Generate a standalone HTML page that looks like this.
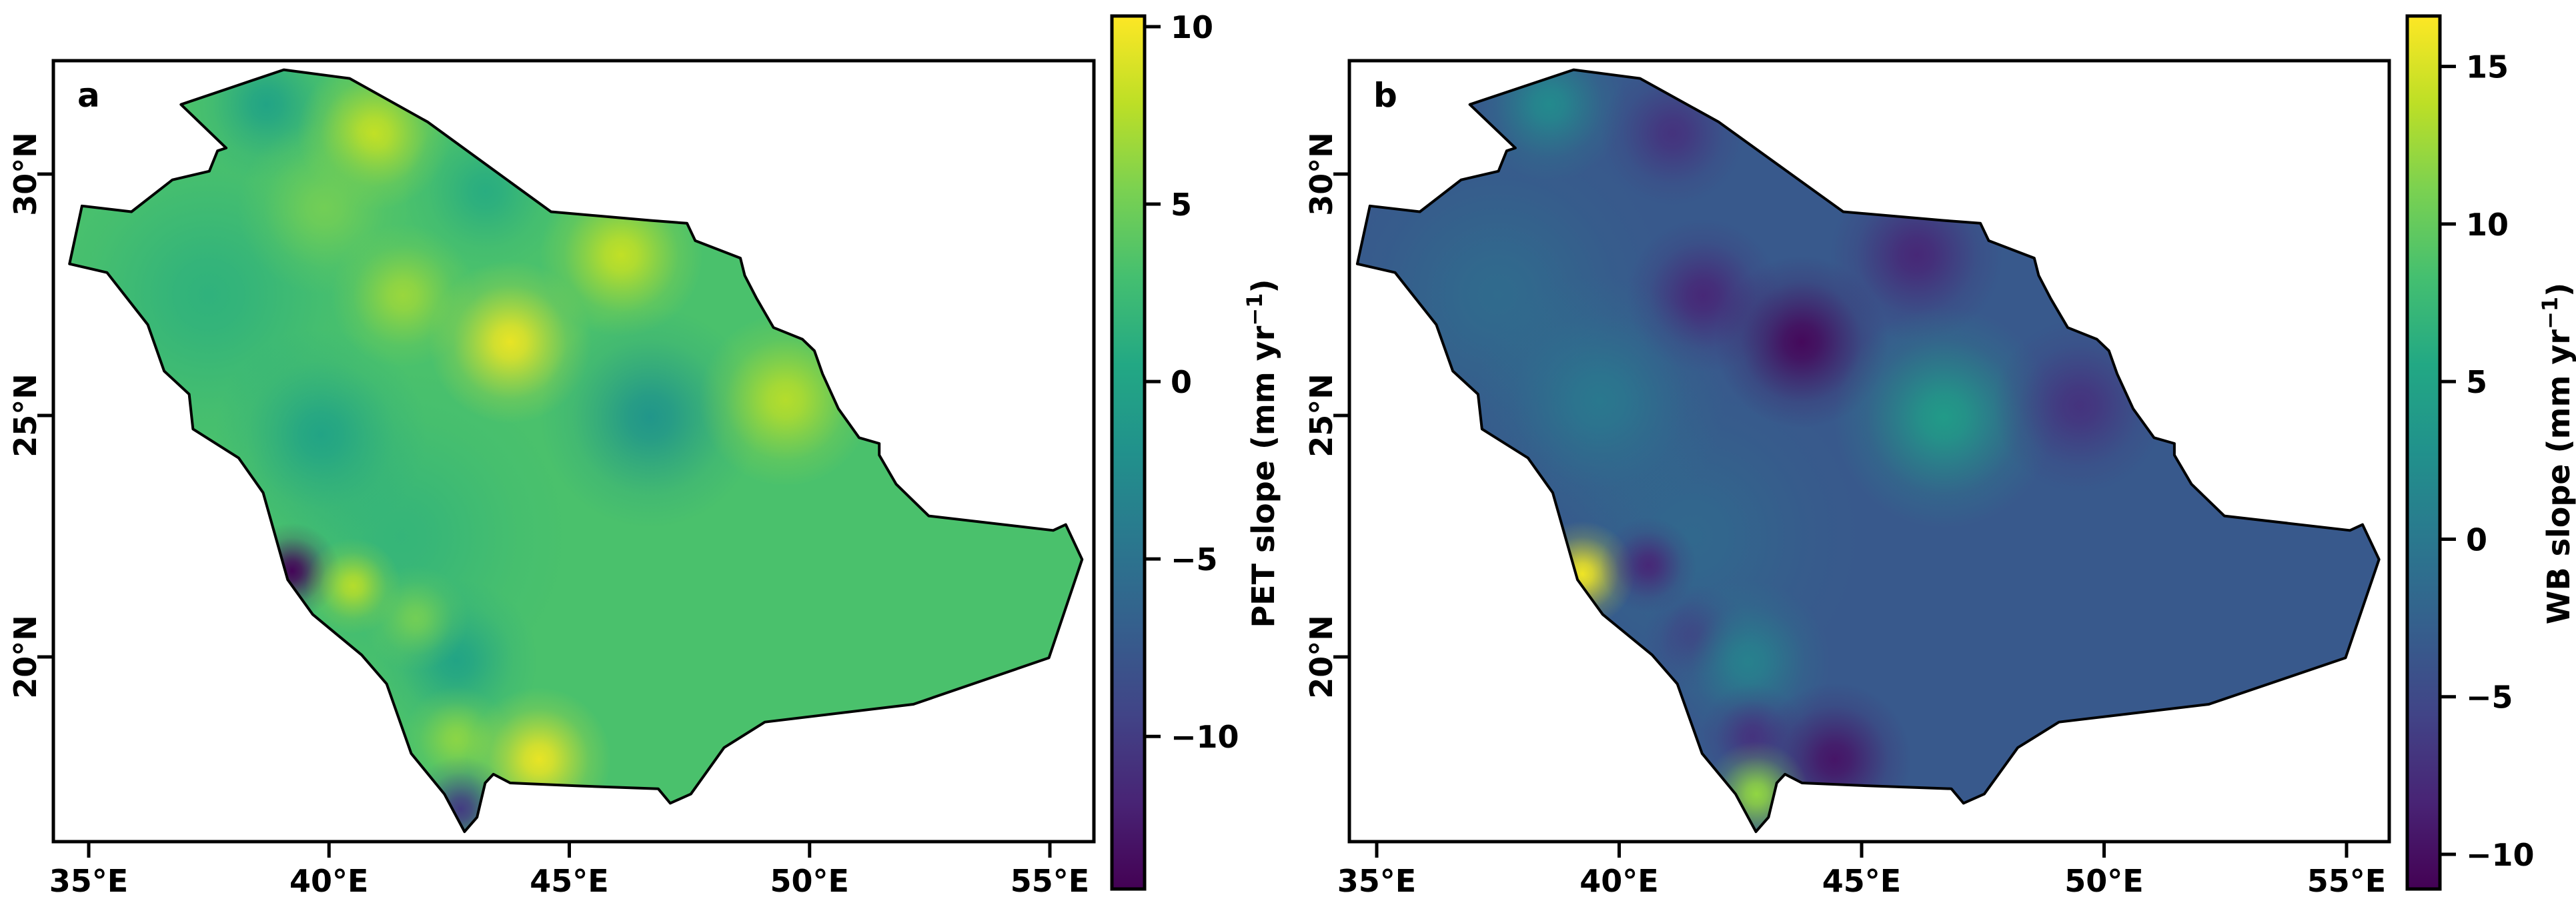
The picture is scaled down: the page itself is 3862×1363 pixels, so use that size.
<!DOCTYPE html>
<html><head><meta charset="utf-8">
<style>
html,body{margin:0;padding:0;background:#fff;}
svg{display:block;}
text{font-family:"DejaVu Sans","Liberation Sans",sans-serif;font-weight:bold;fill:#000;}
</style></head>
<body>
<svg id="fig" width="3862" height="1363" viewBox="0 0 3862 1363" xmlns="http://www.w3.org/2000/svg">
<defs id="defs"></defs>
</svg>
<script>
// ---- data ----
const outlineLon = [36.92,39.06,40.43,42.05,44.62,46.68,47.45,47.62,48.56,48.65,48.9,49.25,49.85,50.1,50.27,50.6,51.03,51.45,51.45,51.8,52.48,55.07,55.33,55.67,54.98,52.16,49.07,48.22,47.53,47.1,46.85,45.14,43.77,43.42,43.25,43.08,42.82,42.4,41.71,41.2,40.68,39.66,39.14,38.97,38.63,38.12,37.17,37.09,36.57,36.23,35.38,34.6,34.86,35.89,36.74,37.51,37.68,37.86];
const outlineLat = [31.44,32.16,31.98,31.08,29.22,29.04,28.98,28.62,28.26,27.9,27.42,26.82,26.58,26.34,25.86,25.14,24.54,24.42,24.18,23.58,22.92,22.62,22.74,22.02,19.98,19.02,18.65,18.12,17.16,16.97,17.27,17.33,17.39,17.57,17.39,16.68,16.38,17.16,18.0,19.44,20.04,20.88,21.6,22.2,23.4,24.12,24.72,25.44,25.92,26.88,27.96,28.14,29.34,29.22,29.88,30.06,30.48,30.54];

const petBase = 3.2;
const petLon = [37.5,41.5,38.7,40.94,41.54,43.77,46.08,46.68,49.5,39.83,39.23,40.5,42.65,42.65,44.37,42.74,43.25,39.9,41.8];
const petLat = [27.5,22.5,31.44,30.84,27.48,26.52,28.32,24.96,25.32,24.6,21.78,21.47,19.92,18.3,17.88,16.85,29.64,29.3,20.8];
const petVal = [1.5,1.8,0,8,6.5,9.5,8,-1.5,7.5,0,-14,7.5,0,6,9.5,-10,1,5,5];
const petRad = [3.5,3.5,1.6,1.6,1.5,1.7,1.7,2.3,1.8,2.2,1.0,1.0,1.7,1.1,1.5,1.1,1.7,1.8,1.1];

const wbBase = -3.4;
const wbLon = [37.5,41.5,38.56,41.1,41.73,43.76,46.13,46.7,49.5,39.6,39.24,40.6,41.6,42.66,42.75,44.44,42.83];
const wbLat = [27.5,22.5,31.44,30.84,27.48,26.52,28.32,24.96,25.2,25.3,21.72,21.9,20.4,19.9,18.35,17.88,17.16];
const wbVal = [-1.5,-1.8,2,-7,-8,-10.5,-8,4,-7,0,16,-8,-6,1,-7,-9.5,12];
const wbRad = [3.5,3.5,1.6,1.5,1.6,1.8,1.8,2.3,1.8,2.6,1.1,1.0,1.1,1.7,1.1,1.6,1.1];

const petTicks = [10,5,0,-5,-10];
const wbTicks = [15,10,5,0,-5,-10];
const lonTicks = [35,40,45,50,55];
const latTicks = [30,25,20];

// ---- helpers ----
const NS='http://www.w3.org/2000/svg';
const svg=document.getElementById('fig');
const defs=document.getElementById('defs');
const vir=['#440154','#482475','#414487','#355f8d','#2a788e','#21918c','#22a884','#44bf70','#7ad151','#bddf26','#fde725'];
function hex(h){return [parseInt(h.substr(1,2),16),parseInt(h.substr(3,2),16),parseInt(h.substr(5,2),16)];}
function viridis(t){t=Math.max(0,Math.min(1,t));const f=t*10;const i=Math.min(9,Math.floor(f));const r=f-i;const a=hex(vir[i]),b=hex(vir[i+1]);
 return 'rgb('+a.map((v,k)=>Math.round(v+(b[k]-v)*r)).join(',')+')';}
function mk(tag,attrs,parent){const e=document.createElementNS(NS,tag);for(const k in attrs)e.setAttribute(k,attrs[k]);(parent||svg).appendChild(e);return e;}

function panel(cfg){
 const X=lon=>cfg.x0+(lon-35)*cfg.sx;
 const Y=lat=>261+(30-lat)*72.4;
 const C=v=>(v-cfg.vmin)/(cfg.vmax-cfg.vmin);
 const g=mk('g',{});
 
 
 const pts=outlineLon.map((l,i)=>X(l).toFixed(1)+','+Y(outlineLat[i]).toFixed(1)).join(' ');
 const cp=mk('clipPath',{id:cfg.id+'-clip'},defs);
 mk('polygon',{points:pts},cp);
 const field=mk('g',{'clip-path':'url(#'+cfg.id+'-clip)'},g);
 const base=mk('polygon',{points:pts,fill:viridis(C(cfg.base))},field);
 
 
 cfg.lon.forEach((l,i)=>{
  const col=viridis(C(cfg.val[i]));
  const gid=cfg.id+'-blob'+i;
  const rg=mk('radialGradient',{id:gid},defs);
  [[0,1],[0.2,0.85],[0.45,0.5],[0.7,0.18],[1,0]].forEach(s=>mk('stop',{offset:s[0],'stop-color':col,'stop-opacity':s[1]},rg));
  const c=mk('circle',{cx:X(l),cy:Y(cfg.lat[i]),r:cfg.rad[i]*72,fill:'url(#'+gid+')'},field);
  
  
 });
 const ol=mk('polygon',{points:pts,fill:'none',stroke:'#000','stroke-width':4,'stroke-linejoin':'round'},g);
 
 
 const fr=mk('rect',{x:cfg.fx0,y:91,width:cfg.fx1-cfg.fx0,height:1171,fill:'none',stroke:'#000','stroke-width':5},g);
 
 
 lonTicks.forEach(t=>{
  mk('line',{x1:X(t),x2:X(t),y1:1262,y2:1286,stroke:'#000','stroke-width':5},g);
  const tx=mk('text',{x:X(t),y:1337,'font-size':46,'text-anchor':'middle'},g);
  tx.textContent=t+'°E';
  
  
 });
 latTicks.forEach(t=>{
  mk('line',{x1:cfg.fx0-24,x2:cfg.fx0,y1:Y(t),y2:Y(t),stroke:'#000','stroke-width':5},g);
  const tx=mk('text',{x:0,y:0,'font-size':46,'text-anchor':'middle',transform:'translate('+(cfg.fx0-26)+','+Y(t)+') rotate(-90)'},g);
  tx.textContent=t+'°N';
  
  
 });
 const lt=mk('text',{x:cfg.fx0+36,y:160,'font-size':50},g);
 lt.textContent=cfg.letter;
 
 
 // colorbar
 const cb=mk('g',{});
 
 
 const lg=mk('linearGradient',{id:cfg.id+'-cbg',x1:0,y1:1,x2:0,y2:0},defs);
 vir.forEach((c,i)=>mk('stop',{offset:i/10,'stop-color':c},lg));
 const cbTop=24,cbBot=1333;
 const CY=v=>cbBot-(v-cfg.vmin)/(cfg.vmax-cfg.vmin)*(cbBot-cbTop);
 mk('rect',{x:cfg.cx,y:cbTop,width:49,height:cbBot-cbTop,fill:'url(#'+cfg.id+'-cbg)',stroke:'#000','stroke-width':5},cb);
 cfg.ticks.forEach(t=>{
  mk('line',{x1:cfg.cx+49,x2:cfg.cx+73,y1:CY(t),y2:CY(t),stroke:'#000','stroke-width':5},cb);
  const tx=mk('text',{x:cfg.cx+88,y:CY(t)+17,'font-size':46},cb);
  tx.textContent=(t<0?'\u2212'+(-t):''+t);
  
  
 });
 const lab=mk('text',{x:0,y:0,'font-size':46,'text-anchor':'middle',transform:'translate('+(cfg.cx+243)+',680) rotate(-90)'},cb);
 lab.innerHTML=cfg.label+' slope (mm yr<tspan dy="-18" font-size="32">\u22121</tspan><tspan dy="18">)</tspan>';
 
 
}

panel({id:'pet',letter:'a',x0:133,sx:72.05,fx0:80,fx1:1640,cx:1667,vmin:-14.3,vmax:10.3,base:petBase,lon:petLon,lat:petLat,val:petVal,rad:petRad,ticks:petTicks,label:'PET'});
panel({id:'wb',letter:'b',x0:2064,sx:72.7,fx0:2023,fx1:3582,cx:3609,vmin:-11.1,vmax:16.6,base:wbBase,lon:wbLon,lat:wbLat,val:wbVal,rad:wbRad,ticks:wbTicks,label:'WB'});
</script>
</body></html>
